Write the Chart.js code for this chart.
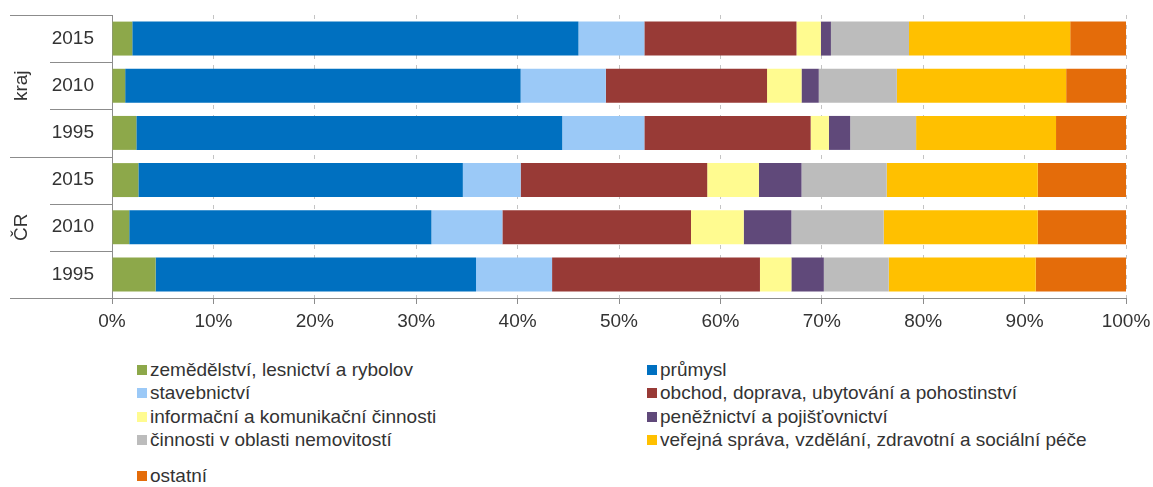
<!DOCTYPE html>
<html>
<head>
<meta charset="utf-8">
<script src="https://cdn.jsdelivr.net/npm/chart.js@4.4.0/dist/chart.umd.min.js"></script>
<style>
body { margin: 0; background: #fff; }
#wrap { position: relative; width: 1153px; height: 487px; }
#legend {
    position: absolute; left: 137px; top: 358px;
    display: grid; grid-template-columns: 510px auto;
    font: 19px "Liberation Sans", Arial, sans-serif; color: #333;
}
.item { height: 23.5px; display: flex; align-items: center; white-space: nowrap; }
.item i { width: 10px; height: 10px; margin-right: 3px; display: inline-block; }
.item:nth-child(9) { margin-top: 12px; }
</style>
</head>
<body>
<div id="wrap">
    <canvas id="graph" width="1153" height="340"></canvas>
    <div id="legend"></div>
</div>
<script>
// rows top to bottom
const yearLabels = ['2015', '2010', '1995', '2015', '2010', '1995'];
const groupLabels = ['kraj', 'kraj', 'kraj', 'ČR', 'ČR', 'ČR'];

// share in %, same order as the rows
const zemedelstvi = [2.0, 1.3, 2.4, 2.6, 1.7, 4.3];
const prumysl = [44.0, 39.0, 42.0, 32.0, 29.8, 31.6];
const stavebnictvi = [6.5, 8.4, 8.1, 5.7, 7.0, 7.5];
const obchod = [15.0, 15.9, 16.4, 18.4, 18.6, 20.5];
const informacni = [2.4, 3.4, 1.8, 5.1, 5.2, 3.1];
const penezni = [1.0, 1.7, 2.1, 4.2, 4.7, 3.2];
const nemovitosti = [7.7, 7.7, 6.5, 8.4, 9.1, 6.4];
const verejna = [15.9, 16.7, 13.8, 14.9, 15.2, 14.5];
const ostatni = [5.5, 5.9, 6.9, 8.7, 8.7, 8.9];

const xTicks = [0, 10, 20, 30, 40, 50, 60, 70, 80, 90, 100];

Chart.defaults.font.family = '"Liberation Sans", Arial, sans-serif';
Chart.defaults.color = '#333';

// separator lines + rotated group names on the left
const groupAxis = {
    id: 'groupAxis',
    afterDraw(chart) {
        const ctx = chart.ctx;
        const y = chart.scales.y;
        const step = y.getPixelForTick(1) - y.getPixelForTick(0);
        ctx.save();
        ctx.strokeStyle = '#8c8c8c';
        ctx.lineWidth = 1;
        for (let i = 0; i <= yearLabels.length; i++) {
            const py = Math.round(y.getPixelForTick(Math.min(i, yearLabels.length - 1)) + (i === yearLabels.length ? step / 2 : -step / 2)) + 0.5;
            const outer = i === 0 || i === yearLabels.length || groupLabels[i] !== groupLabels[i - 1];
            ctx.beginPath();
            ctx.moveTo(outer ? 10 : 50, py);
            ctx.lineTo(y.right, py);
            ctx.stroke();
        }
        ctx.fillStyle = '#333';
        ctx.font = '19px "Liberation Sans", Arial, sans-serif';
        ctx.textAlign = 'center';
        ctx.textBaseline = 'middle';
        const groups = [...new Set(groupLabels)];
        groups.forEach(g => {
            const first = groupLabels.indexOf(g);
            const last = groupLabels.lastIndexOf(g);
            const cy = (y.getPixelForTick(first) + y.getPixelForTick(last)) / 2;
            ctx.save();
            ctx.translate(22, cy);
            ctx.rotate(-Math.PI / 2);
            ctx.fillText(g, 0, 0);
            ctx.restore();
        });
        ctx.restore();
    }
};

const myChart = new Chart(
    document.getElementById('graph'), {
        type: 'bar',
        data: {
            labels: yearLabels,
            datasets: [
                { label: 'zemědělství, lesnictví a rybolov', data: zemedelstvi, backgroundColor: '#8DA84A' },
                { label: 'průmysl', data: prumysl, backgroundColor: '#0070C0' },
                { label: 'stavebnictví', data: stavebnictvi, backgroundColor: '#9BC9F7' },
                { label: 'obchod, doprava, ubytování a pohostinství', data: obchod, backgroundColor: '#983A36' },
                { label: 'informační a komunikační činnosti', data: informacni, backgroundColor: '#FFFB90' },
                { label: 'peněžnictví a pojišťovnictví', data: penezni, backgroundColor: '#60497A' },
                { label: 'činnosti v oblasti nemovitostí', data: nemovitosti, backgroundColor: '#BCBCBC' },
                { label: 'veřejná správa, vzdělání, zdravotní a sociální péče', data: verejna, backgroundColor: '#FFC000' },
                { label: 'ostatní', data: ostatni, backgroundColor: '#E46C0A' }
            ]
        },
        options: {
            indexAxis: 'y',
            responsive: false,
            animation: false,
            datasets: {
                bar: { barPercentage: 0.72, categoryPercentage: 1, borderWidth: 0 }
            },
            layout: { padding: { left: 0, right: 27, top: 15, bottom: 0 } },
            plugins: {
                legend: { display: false },
                tooltip: { enabled: false }
            },
            scales: {
                x: {
                    stacked: true,
                    min: 0,
                    max: 100,
                    afterBuildTicks: (scale) => { scale.ticks = xTicks.map(v => ({ value: v })); },
                    ticks: {
                        callback: (v) => v + '%',
                        font: { size: 19 },
                        padding: 6,
                        maxRotation: 0
                    },
                    grid: { color: '#c4c4c4', tickColor: '#8c8c8c', tickLength: 6 },
                    border: { color: '#8c8c8c', dash: [4, 6] },
                    afterFit: (scale) => {
                        scale.height = 42;
                        scale.paddingLeft = 0;
                        scale.paddingRight = 0;
                    }
                },
                y: {
                    stacked: true,
                    ticks: { font: { size: 19 }, padding: 18 },
                    grid: { display: false, drawTicks: false },
                    border: { color: '#8c8c8c' },
                    afterFit: (scale) => {
                        scale.width = 112;
                        scale.paddingTop = 0;
                        scale.paddingBottom = 0;
                    }
                }
            }
        },
        plugins: [groupAxis]
    }
);

// two column legend under the chart
const legendBox = document.getElementById('legend');
myChart.data.datasets.forEach((ds) => {
    const item = document.createElement('div');
    item.className = 'item';
    item.innerHTML = '<i style="background:' + ds.backgroundColor + '"></i>' + ds.label;
    legendBox.appendChild(item);
});
</script>
</body>
</html>
